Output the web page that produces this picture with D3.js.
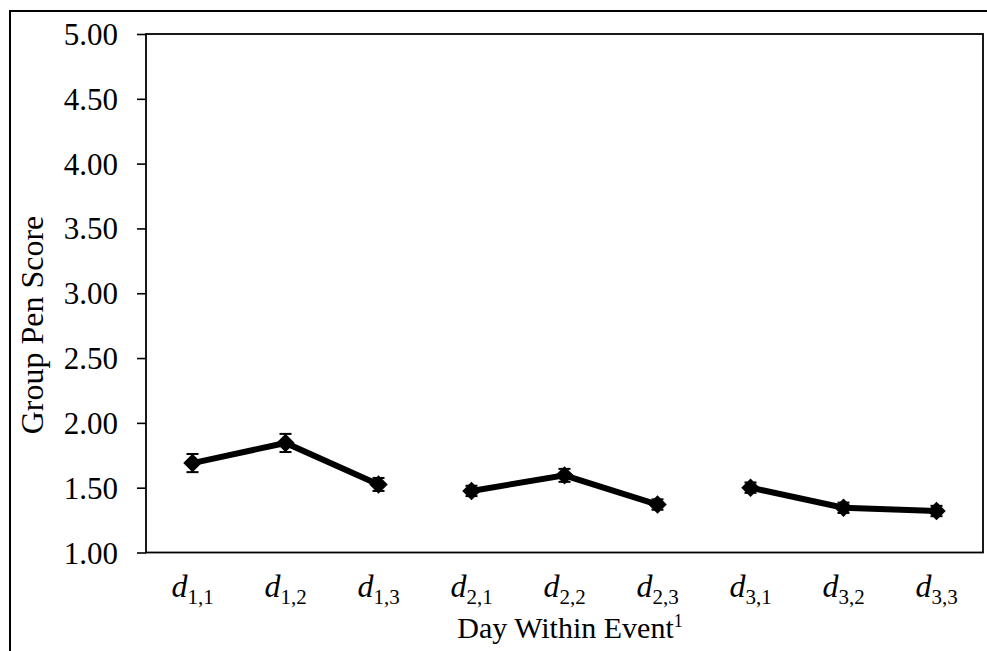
<!DOCTYPE html>
<html>
<head>
<meta charset="utf-8">
<script src="https://cdn.jsdelivr.net/npm/d3@7/dist/d3.min.js"></script>
<style>
  body { margin: 0; background: #fff; }
  text { font-family: "Liberation Serif", "Times New Roman", serif; fill: #000; }
</style>
</head>
<body>
<div class="canvas"></div>
<script>
// event number for each day, subscript label, mean score and error
const events = [1, 1, 1, 2, 2, 2, 3, 3, 3];
const subs = ["1,1", "1,2", "1,3", "2,1", "2,2", "2,3", "3,1", "3,2", "3,3"];
const scores = [1.69, 1.845, 1.525, 1.475, 1.595, 1.37, 1.5, 1.345, 1.32];
const errs = [0.07, 0.07, 0.05, 0.04, 0.05, 0.04, 0.04, 0.04, 0.04];
const yTicks = [1, 1.5, 2, 2.5, 3, 3.5, 4, 4.5, 5];

const width = 987, height = 651;
const margin = { top: 34, right: 4, bottom: 98.5, left: 146 };

const svg = d3.select(".canvas").append("svg")
  .attr("width", width)
  .attr("height", height);

// outer frame
svg.append("rect")
  .attr("x", 10).attr("y", 11)
  .attr("width", 1000).attr("height", 700)
  .attr("fill", "none").attr("stroke", "#000").attr("stroke-width", 2);

const x = d3.scalePoint()
  .domain(subs)
  .range([margin.left, width - margin.right])
  .padding(0.5);

const y = d3.scaleLinear()
  .domain([1, 5])
  .range([height - margin.bottom, margin.top]);

// plot box
svg.append("rect")
  .attr("x", margin.left).attr("y", margin.top)
  .attr("width", width - margin.right - margin.left)
  .attr("height", height - margin.bottom - margin.top)
  .attr("fill", "none").attr("stroke", "#000").attr("stroke-width", 1.8);

const yAxis = svg.append("g")
  .attr("transform", `translate(${margin.left},0)`)
  .call(d3.axisLeft(y).tickValues(yTicks).tickFormat(d3.format(".2f")).tickSize(9).tickPadding(19));
yAxis.select(".domain").remove();
yAxis.selectAll(".tick line").attr("stroke", "#000").attr("stroke-width", 1.6);
yAxis.selectAll(".tick text")
  .attr("font-family", "Liberation Serif")
  .attr("font-size", 31)
  .attr("dy", "0.34em");

// x labels: italic d with subscript
const xl = svg.append("g").selectAll("text")
  .data(subs)
  .join("text")
    .attr("x", d => x(d))
    .attr("y", 597)
    .attr("text-anchor", "middle");
xl.append("tspan").attr("font-style", "italic").attr("font-size", 32).text("d");
xl.append("tspan").attr("font-size", 21).attr("dy", 7).text(d => d);

// axis titles
const xt = svg.append("text")
  .attr("x", 570).attr("y", 638)
  .attr("text-anchor", "middle")
  .attr("font-size", 30);
xt.append("tspan").text("Day Within Event");
xt.append("tspan").attr("font-size", 18).attr("dy", -11).text("1");

svg.append("text")
  .attr("transform", "translate(43,325) rotate(-90)")
  .attr("text-anchor", "middle")
  .attr("font-size", 32)
  .text("Group Pen Score");

// lines, one per event
const pts = subs.map((s, i) => ({ s, ev: events[i], v: scores[i], e: errs[i] }));
const line = d3.line().x(d => x(d.s)).y(d => y(d.v));
svg.append("g").selectAll("path")
  .data(d3.groups(pts, d => d.ev))
  .join("path")
    .attr("d", d => line(d[1]))
    .attr("fill", "none")
    .attr("stroke", "#000")
    .attr("stroke-width", 6);

// error bars
const eb = svg.append("g").attr("stroke", "#000").attr("stroke-width", 2);
eb.selectAll("line.v").data(pts).join("line").attr("class", "v")
  .attr("x1", d => x(d.s)).attr("x2", d => x(d.s))
  .attr("y1", d => y(d.v + d.e)).attr("y2", d => y(d.v - d.e));
eb.selectAll("line.t").data(pts).join("line").attr("class", "t")
  .attr("x1", d => x(d.s) - 6).attr("x2", d => x(d.s) + 6)
  .attr("y1", d => y(d.v + d.e)).attr("y2", d => y(d.v + d.e));
eb.selectAll("line.b").data(pts).join("line").attr("class", "b")
  .attr("x1", d => x(d.s) - 6).attr("x2", d => x(d.s) + 6)
  .attr("y1", d => y(d.v - d.e)).attr("y2", d => y(d.v - d.e));

// diamond markers
svg.append("g").selectAll("path")
  .data(pts)
  .join("path")
    .attr("d", d3.symbol().type(d3.symbolSquare).size(170))
    .attr("transform", d => `translate(${x(d.s)},${y(d.v)}) rotate(45)`)
    .attr("fill", "#000");
</script>
</body>
</html>
